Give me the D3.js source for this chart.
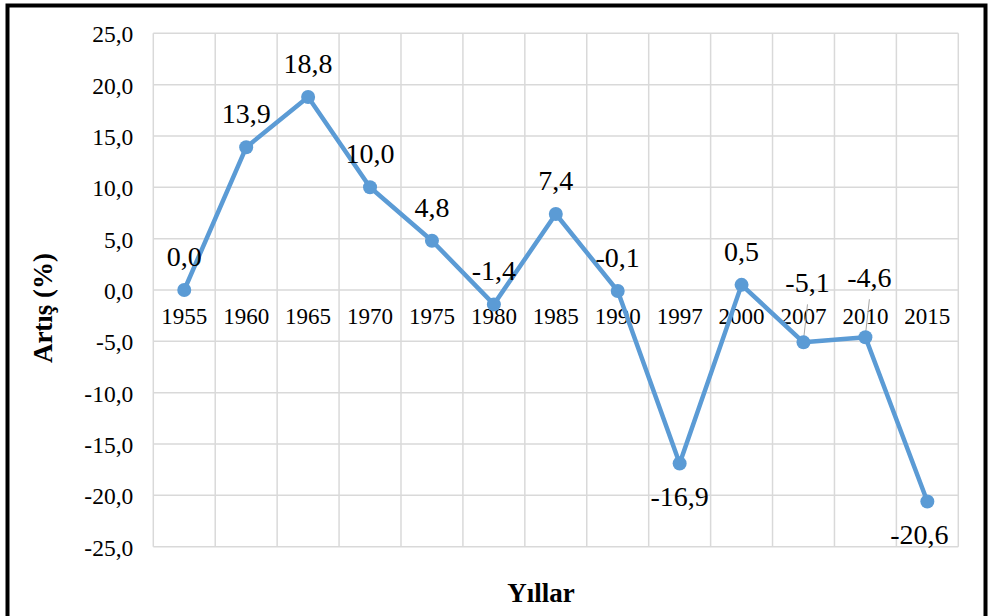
<!DOCTYPE html>
<html>
<head>
<meta charset="utf-8">
<script src="https://cdn.jsdelivr.net/npm/d3@7"></script>
<style>
  html, body { margin: 0; padding: 0; background: #fff; }
  svg { display: block; }
</style>
</head>
<body>
<div id="chart"></div>
<script>
// values
const years = ["1955", "1960", "1965", "1970", "1975", "1980", "1985", "1990", "1997", "2000", "2007", "2010", "2015"];
const values = [0.0, 13.9, 18.8, 10.0, 4.8, -1.4, 7.4, -0.1, -16.9, 0.5, -5.1, -4.6, -20.6];
const yTicks = [-25, -20, -15, -10, -5, 0, 5, 10, 15, 20, 25];
// where each value label sits: a = above, b = below, l = above with a leader line
const labelPlace = ["a", "a", "a", "a", "a", "a", "a", "a", "b", "a", "l", "l", "b"];

(function () {
  const W = 988, H = 616;
  const margin = { top: 33.3, right: 29.7, bottom: 69.3, left: 153.3 };
  const width = W - margin.left - margin.right;
  const height = H - margin.top - margin.bottom;
  const font = "'Liberation Serif', 'Times New Roman', serif";
  const fmt = (v) => v.toFixed(1).replace(".", ",");

  const svg = d3.select("#chart").append("svg")
    .attr("width", W).attr("height", H)
    .style("font-family", font);

  svg.append("rect").attr("width", W).attr("height", H).attr("fill", "#fff");

  const g = svg.append("g")
    .attr("transform", `translate(${margin.left},${margin.top})`);

  const x = d3.scaleBand().domain(years).range([0, width]).padding(0);
  const y = d3.scaleLinear().domain([-25, 25]).range([height, 0]);

  // grid
  g.append("g")
    .selectAll("line")
    .data(yTicks)
    .join("line")
    .attr("x1", 0).attr("x2", width)
    .attr("y1", (d) => y(d)).attr("y2", (d) => y(d))
    .attr("stroke", "#d9d9d9").attr("stroke-width", 1.5);

  g.append("g")
    .selectAll("line")
    .data(years.concat(["end"]))
    .join("line")
    .attr("x1", (d, i) => i * x.step()).attr("x2", (d, i) => i * x.step())
    .attr("y1", 0).attr("y2", height)
    .attr("stroke", "#d9d9d9").attr("stroke-width", 1.5);

  // y axis labels
  const yAxis = g.append("g")
    .call(d3.axisLeft(y).tickValues(yTicks).tickFormat(fmt).tickSize(0).tickPadding(20));
  yAxis.attr("font-family", null).attr("font-size", null);
  yAxis.select(".domain").remove();
  yAxis.selectAll("text")
    .style("font-family", font).style("font-size", "23.5px").attr("fill", "#000")
    .attr("dy", "0.36em");

  // x axis labels sit on the zero line
  const xAxis = g.append("g")
    .attr("transform", `translate(0,${y(0)})`)
    .call(d3.axisBottom(x).tickSize(0).tickPadding(18));
  xAxis.attr("font-family", null).attr("font-size", null);
  xAxis.select(".domain").remove();
  xAxis.selectAll("text")
    .style("font-family", font).style("font-size", "23px").attr("fill", "#000");

  const pts = years.map((yr, i) => ({ yr, v: values[i], place: labelPlace[i] }));
  const cx = (d) => x(d.yr) + x.bandwidth() / 2;

  g.append("path")
    .datum(pts)
    .attr("fill", "none")
    .attr("stroke", "#5b9bd5")
    .attr("stroke-width", 4.5)
    .attr("stroke-linejoin", "round")
    .attr("d", d3.line().x(cx).y((d) => y(d.v)));

  // leader lines
  g.selectAll(".leader")
    .data(pts.filter((d) => d.place === "l"))
    .join("line")
    .attr("class", "leader")
    .attr("x1", (d) => cx(d) + 4).attr("y1", (d) => y(d.v) - 38)
    .attr("x2", (d) => cx(d)).attr("y2", (d) => y(d.v) - 2)
    .attr("stroke", "#a6a6a6").attr("stroke-width", 1);

  g.selectAll(".dot")
    .data(pts)
    .join("circle")
    .attr("class", "dot")
    .attr("cx", cx).attr("cy", (d) => y(d.v))
    .attr("r", 7)
    .attr("fill", "#5b9bd5");

  g.selectAll(".val")
    .data(pts)
    .join("text")
    .attr("class", "val")
    .attr("text-anchor", "middle")
    .style("font-family", font).style("font-size", "28px").attr("fill", "#000")
    .attr("x", (d) => cx(d) + (d.place === "l" ? 4 : 0) - (d.yr === "2015" ? 8 : 0))
    .attr("y", (d) => y(d.v) + (d.place === "b" ? 42 : d.place === "l" ? -50 : -24))
    .text((d) => fmt(d.v));

  // axis titles
  svg.append("text")
    .attr("transform", `translate(52,${margin.top + height / 2 + 18}) rotate(-90)`)
    .attr("text-anchor", "middle")
    .style("font-size", "27px").attr("font-weight", "bold")
    .text("Artış (%)");

  svg.append("text")
    .attr("x", 541).attr("y", 602)
    .attr("text-anchor", "middle")
    .style("font-size", "27px").attr("font-weight", "bold")
    .text("Yıllar");

  // chart frame
  svg.append("rect")
    .attr("x", 7.5).attr("y", 5.5)
    .attr("width", 978).attr("height", 640)
    .attr("fill", "none")
    .attr("stroke", "#000").attr("stroke-width", 4);
})();
</script>
</body>
</html>
